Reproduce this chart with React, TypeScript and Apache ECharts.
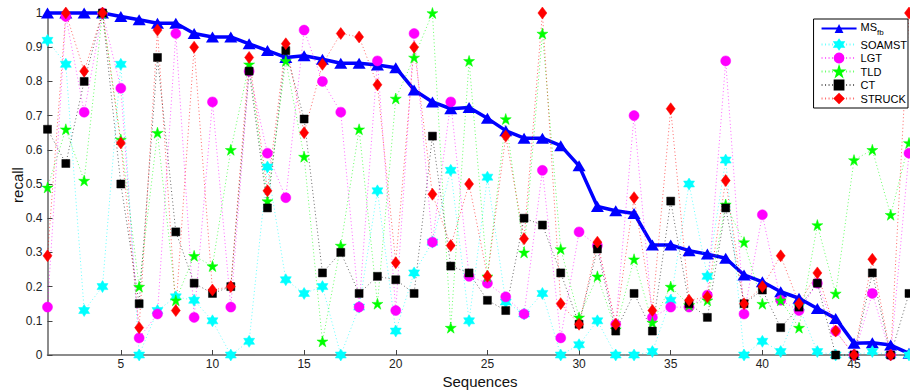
import React, { useEffect, useRef } from "react";
import * as echarts from "echarts";

const sequences = Array.from({ length: 48 }, (_, i) => i + 1);
const xTickValues = [5, 10, 15, 20, 25, 30, 35, 40, 45];

const msfb = [1.0, 1.0, 1.0, 1.0, 0.99, 0.98, 0.97, 0.97, 0.94, 0.93, 0.93, 0.91, 0.89, 0.87, 0.875, 0.865, 0.853, 0.853, 0.848, 0.84, 0.775, 0.74, 0.72, 0.724, 0.692, 0.656, 0.634, 0.634, 0.612, 0.553, 0.434, 0.422, 0.414, 0.322, 0.322, 0.305, 0.295, 0.283, 0.234, 0.214, 0.185, 0.166, 0.136, 0.107, 0.034, 0.036, 0.029, 0.005];
const soamst = [0.92, 0.85, 0.13, 0.2, 0.85, 0.0, 0.13, 0.17, 0.16, 0.1, 0.0, 0.04, 0.55, 0.22, 0.18, 0.2, 0.0, 0.14, 0.48, 0.07, 0.24, 0.33, 0.54, 0.1, 0.52, 0.155, 0.12, 0.18, 0.0, 0.03, 0.1, 0.0, 0.0, 0.01, 0.16, 0.5, 0.23, 0.57, 0.0, 0.04, 0.01, 0.14, 0.01, 0.0, 0.0, 0.01, 0.0, 0.0];
const lgt = [0.14, 0.99, 0.71, 1.0, 0.78, 0.05, 0.12, 0.94, 0.11, 0.74, 0.14, 0.83, 0.59, 0.46, 0.95, 0.8, 0.71, 0.14, 0.86, 0.13, 0.94, 0.33, 0.74, 0.23, 0.21, 0.17, 0.12, 0.54, 0.05, 0.36, 0.32, 0.09, 0.7, 0.11, 0.14, 0.14, 0.175, 0.86, 0.12, 0.41, 0.16, 0.13, 0.21, 0.07, 0.0, 0.18, 0.0, 0.59];
const tld = [0.49, 0.66, 0.51, 1.0, 0.63, 0.2, 0.65, 0.16, 0.29, 0.26, 0.6, 0.85, 0.45, 0.86, 0.58, 0.04, 0.32, 0.66, 0.15, 0.75, 0.87, 1.0, 0.08, 0.86, 0.23, 0.69, 0.3, 0.94, 0.31, 0.11, 0.23, 0.075, 0.28, 0.095, 0.2, 0.146, 0.16, 0.44, 0.33, 0.15, 0.16, 0.08, 0.38, 0.18, 0.57, 0.6, 0.41, 0.62];
const ct = [0.66, 0.56, 0.8, 1.0, 0.5, 0.15, 0.87, 0.36, 0.21, 0.18, 0.2, 0.83, 0.43, 0.89, 0.69, 0.24, 0.3, 0.18, 0.23, 0.22, 0.18, 0.64, 0.26, 0.24, 0.16, 0.13, 0.4, 0.38, 0.24, 0.09, 0.31, 0.07, 0.18, 0.07, 0.45, 0.15, 0.11, 0.43, 0.15, 0.19, 0.08, 0.14, 0.21, 0.0, 0.0, 0.24, 0.0, 0.18];
const struck = [0.29, 1.0, 0.83, 1.0, 0.62, 0.08, 0.95, 0.13, 0.9, 0.19, 0.2, 0.87, 0.48, 0.91, 0.65, 0.85, 0.94, 0.93, 0.79, 0.27, 0.9, 0.47, 0.32, 0.5, 0.23, 0.64, 0.34, 1.0, 0.15, 0.09, 0.33, 0.09, 0.46, 0.13, 0.72, 0.16, 0.17, 0.51, 0.15, 0.2, 0.29, 0.15, 0.24, 0.07, 0.0, 0.28, 0.0, 1.0];

const HEXAGRAM = "path://M50 0 L64.43 25 L93.3 25 L78.87 50 L93.3 75 L64.43 75 L50 100 L35.57 75 L6.7 75 L21.13 50 L6.7 25 L35.57 25 Z";
const PENTAGRAM = "path://M50 0 L61.23 34.55 L97.55 34.55 L68.17 55.9 L79.39 90.45 L50 69.1 L20.61 90.45 L31.83 55.9 L2.45 34.55 L38.77 34.55 Z";

const FONT = "'Liberation Sans', Arial, Helvetica, sans-serif";

function toPoints(values: number[]) {
  return sequences.map((s, i) => [s, values[i]]);
}

function dotted(name: string, values: number[], color: string, symbol: string, size: number | number[]) {
  return {
    name,
    type: "line",
    data: toPoints(values),
    clip: false,
    symbol,
    symbolSize: size,
    symbolKeepAspect: false,
    showAllSymbol: true,
    lineStyle: { color, width: 1, type: [1, 2.5], opacity: 0.6 },
    itemStyle: { color, borderColor: color, borderWidth: 0.5, opacity: 1 },
    emphasis: { disabled: true },
  };
}

export default function App() {
  const ref = useRef<HTMLDivElement>(null);
  useEffect(() => {
    if (!ref.current) return;
    const chart = echarts.init(ref.current, undefined, { renderer: "svg" });
    chart.setOption({
      animation: false,
      backgroundColor: "#ffffff",
      textStyle: { fontFamily: FONT },
      grid: { left: 47.5, right: 1, top: 13, bottom: 35, containLabel: false },
      xAxis: {
        type: "value",
        min: 1,
        max: 48,
        axisLine: { onZero: false, lineStyle: { color: "#666", width: 1.5 } },
        axisTick: { inside: true, length: 5, customValues: xTickValues, lineStyle: { color: "#444", width: 1 } },
        axisLabel: { customValues: xTickValues, color: "#222", fontSize: 12, margin: 3, lineHeight: 12, fontFamily: FONT },
        splitLine: { show: false },
      },
      yAxis: {
        type: "value",
        min: 0,
        max: 1,
        interval: 0.1,
        axisLine: { show: true, lineStyle: { color: "#666", width: 1.5 } },
        axisTick: { show: true, inside: true, length: 5, lineStyle: { color: "#444", width: 1 } },
        axisLabel: { color: "#222", fontSize: 12, margin: 5, fontFamily: FONT, formatter: (v: number) => String(Math.round(v * 10) / 10) },
        splitLine: { show: false },
      },
      legend: {
        orient: "vertical",
        right: 2,
        top: 19,
        backgroundColor: "#ffffff",
        borderColor: "#000",
        borderWidth: 1,
        borderRadius: 0,
        padding: [2, 1, 4, 7],
        itemGap: 2.5,
        itemWidth: 35,
        itemHeight: 11,
        textStyle: {
          fontFamily: FONT,
          fontSize: 11,
          color: "#000",
          padding: [0, 0, 0, -1],
          rich: {
            a: { fontFamily: FONT, fontSize: 11, color: "#000", padding: [0, 0, 4, 0] },
            b: { fontFamily: FONT, fontSize: 8, color: "#000", padding: [8, 0, 0, 0] },
          },
        },
        formatter: (name: string) => (name === "MS_fb" ? "{a|MS}{b|fb}" : name),
        data: ["MS_fb", "SOAMST", "LGT", "TLD", "CT", "STRUCK"],
      },
      graphic: [
        {
          type: "text",
          x: 480,
          y: 381,
          style: { text: "Sequences", fontFamily: FONT, fontSize: 15, lineHeight: 15, fill: "#111", align: "center", verticalAlign: "middle" },
        },
        {
          type: "text",
          x: 17,
          y: 185,
          rotation: Math.PI / 2,
          style: { text: "recall", fontFamily: FONT, fontSize: 15, fill: "#111", align: "center", verticalAlign: "middle" },
        },
      ],
      series: [
        {
          name: "MS_fb",
          type: "line",
          data: toPoints(msfb),
          clip: false,
          symbol: "triangle",
          symbolSize: [13, 11],
          showAllSymbol: true,
          lineStyle: { color: "#0000ff", width: 3.5 },
          itemStyle: { color: "#0000ff" },
          emphasis: { disabled: true },
        },
        dotted("SOAMST", soamst, "#00ffff", HEXAGRAM, [11, 12]),
        dotted("LGT", lgt, "#ff00ff", "circle", 10),
        dotted("TLD", tld, "#00ff00", PENTAGRAM, [11, 11]),
        dotted("CT", ct, "#000000", "rect", 8),
        dotted("STRUCK", struck, "#ff0000", "diamond", [9, 12]),
      ],
    });
    return () => chart.dispose();
  }, []);
  return <div ref={ref} style={{ position: "absolute", left: 0, top: 0, width: 910, height: 390 }} />;
}
